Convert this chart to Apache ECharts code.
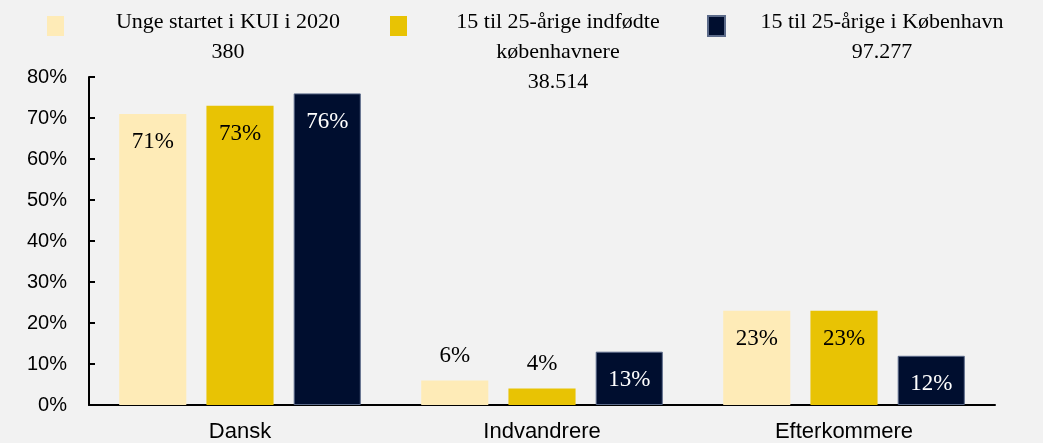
<!DOCTYPE html>
<html>
<head>
<meta charset="UTF-8">
<title>Unge i KUI</title>
<script src="https://cdn.jsdelivr.net/npm/echarts@6/dist/echarts.min.js"></script>
</head>
<body style="margin:0;background:#f2f2f2;">
<div id="chart" style="width:1043px;height:443px;"></div>
<script type="text/javascript">
// data
var categories = ['Dansk', 'Indvandrere', 'Efterkommere'];
var seriesNames = ['Unge startet i KUI i 2020', '15 til 25-årige indfødte københavnere', '15 til 25-årige i København'];
var legendLines = [
	['Unge startet i KUI i 2020', '380'],
	['15 til 25-årige indfødte', 'københavnere', '38.514'],
	['15 til 25-årige i København', '97.277']
];
var kuiValues = [71, 6, 23];
var indfoedteValues = [73, 4, 23];
var kbhValues = [76, 13, 12];
var yTicks = [0, 10, 20, 30, 40, 50, 60, 70, 80];

var colors = ['#feebb7', '#e8c304', '#000e2f'];
var labelColors = ['#000', '#000', '#fff'];
var serif = '"Liberation Serif", "Times New Roman", serif';
var sans = '"Liberation Sans", Arial, sans-serif';

var chart = echarts.init(document.getElementById('chart'));

function makeSeries(idx, values) {
	return {
		name: seriesNames[idx],
		type: 'bar',
		barGap: '30%',
		barCategoryGap: '20%',
		itemStyle: {
			color: colors[idx],
			borderColor: idx == 2 ? '#5c6b8a' : colors[idx],
			borderWidth: idx == 2 ? 1 : 0
		},
		data: values.map(function (v) {
			var small = v < 10;
			return {
				value: v,
				label: {
					position: small ? 'top' : 'insideTop',
					distance: small ? 13 : 17
				}
			};
		}),
		label: {
			show: true,
			color: labelColors[idx],
			fontFamily: serif,
			fontSize: 23,
			formatter: '{c}%'
		}
	};
}

// en legend pr. serie, saa teksten kan centreres og foerste linje ligger ud for ikonet
var legendLeft = [47, 390, 707];
var legendWidth = [318, 292, 304];
var legends = [];
for (var i = 0; i < 3; i++) {
	(function (i) {
		var pad = (legendLines[i].length - 1) * 30;
		legends.push({
			data: [seriesNames[i]],
			left: legendLeft[i],
			top: 11,
			padding: 0,
			itemWidth: 17,
			itemHeight: 20,
			icon: 'rect',
			selectedMode: false,
			formatter: function () {
				return legendLines[i].map(function (s) { return '{c|' + s + '}'; }).join('\n');
			},
			textStyle: {
				color: '#000',
				padding: [pad, 0, 8, 0],
				rich: {
					c: {
						width: legendWidth[i],
						align: 'center',
						lineHeight: 30,
						fontFamily: serif,
						fontSize: 22,
						color: '#000'
					}
				}
			}
		});
	})(i);
}

var option = {
	backgroundColor: '#f2f2f2',
	animation: false,
	legend: legends,
	grid: {
		left: 89,
		right: 48,
		top: 77,
		bottom: 38,
		containLabel: false
	},
	xAxis: {
		type: 'category',
		data: categories,
		axisLine: { lineStyle: { color: '#000', width: 2 } },
		axisTick: { show: false },
		axisLabel: {
			color: '#000',
			fontFamily: sans,
			fontSize: 22,
			margin: 16
		}
	},
	yAxis: {
		type: 'value',
		min: yTicks[0],
		max: yTicks[yTicks.length - 1],
		interval: 10,
		splitLine: { show: false },
		axisLine: { show: true, lineStyle: { color: '#000', width: 2 } },
		axisTick: { show: true, inside: true, length: 6, lineStyle: { color: '#000', width: 2 } },
		axisLabel: {
			color: '#000',
			fontFamily: sans,
			fontSize: 20,
			margin: 22,
			formatter: '{value}%'
		}
	},
	series: [
		makeSeries(0, kuiValues),
		makeSeries(1, indfoedteValues),
		makeSeries(2, kbhValues)
	]
};
chart.setOption(option);
</script>
</body>
</html>
